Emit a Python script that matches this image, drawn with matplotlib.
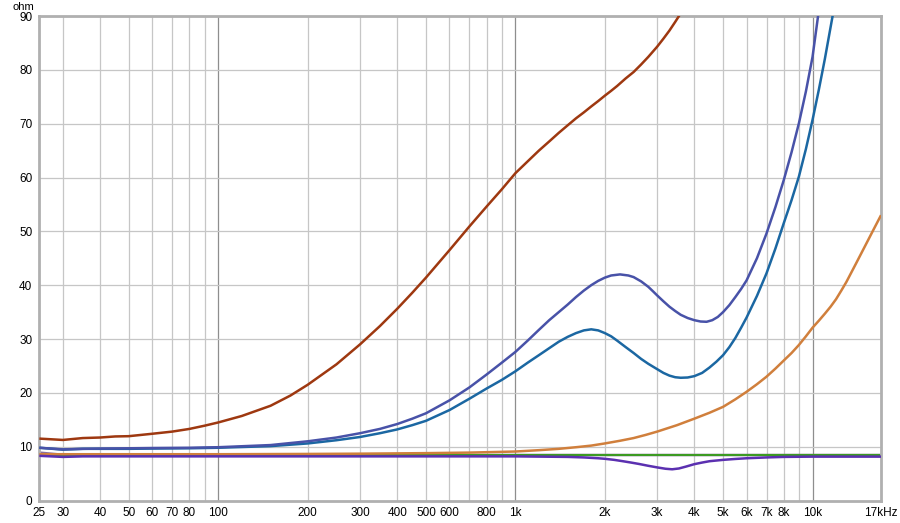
import matplotlib
matplotlib.use("Agg")
import matplotlib.pyplot as plt
from matplotlib.ticker import FixedLocator, NullFormatter, NullLocator

plt.rcParams['font.family'] = ['Liberation Sans', 'DejaVu Sans']

# ---- data (frequency in Hz, impedance in ohm) ----
brown_f = [25, 30, 35, 40, 45, 50, 60, 70, 80, 90, 100, 120, 150, 175, 200, 250, 300, 350, 400, 450,
           500, 600, 700, 800, 900, 1000, 1100, 1200, 1300, 1400, 1500, 1600, 1700, 1800, 1900, 2000,
           2100, 2200, 2350, 2500, 2650, 2800, 3000, 3150, 3300, 3450, 3600]
brown_z = [11.5, 11.25, 11.6, 11.7, 11.9, 11.95, 12.4, 12.8, 13.3, 13.9, 14.5, 15.7, 17.6, 19.5, 21.5,
           25.3, 29.0, 32.4, 35.6, 38.6, 41.4, 46.5, 50.9, 54.6, 57.8, 60.8, 63.0, 65.0, 66.7, 68.3,
           69.7, 71.0, 72.1, 73.2, 74.2, 75.2, 76.1, 77.0, 78.4, 79.6, 81.0, 82.4, 84.3, 85.8, 87.3,
           88.9, 90.5]

blue1_f = [25, 30, 35, 40, 50, 60, 80, 100, 150, 200, 250, 300, 350, 400, 450, 500, 600, 700, 800,
           900, 1000, 1100, 1200, 1300, 1400, 1500, 1600, 1700, 1800, 1900, 2000, 2100, 2250, 2400,
           2500, 2650, 2800, 2900, 3000, 3150, 3300, 3450, 3600, 3800, 4000, 4200, 4400, 4600, 4800,
           5000, 5250, 5500, 5750, 6000, 6500, 7000, 7500, 8000, 8500, 9000, 9500, 10000, 10450]
blue1_z = [9.8, 9.5, 9.6, 9.65, 9.7, 9.75, 9.8, 9.9, 10.3, 11.0, 11.7, 12.5, 13.3, 14.2, 15.2, 16.2,
           18.6, 21.0, 23.4, 25.6, 27.6, 29.7, 31.7, 33.5, 35.0, 36.4, 37.8, 39.0, 40.0, 40.8, 41.4,
           41.8, 42.0, 41.8, 41.5, 40.7, 39.7, 38.9, 38.1, 37.0, 36.0, 35.2, 34.5, 33.9, 33.5, 33.25,
           33.2, 33.5, 34.1, 35.0, 36.3, 37.8, 39.3, 40.9, 45.0, 49.6, 54.5, 59.5, 64.7, 70.1, 76.0,
           82.4, 90.2]

blue2_f = [25, 30, 35, 40, 50, 60, 80, 100, 150, 200, 250, 300, 350, 400, 450, 500, 600, 700, 800,
           900, 1000, 1100, 1200, 1300, 1400, 1500, 1600, 1700, 1800, 1900, 2000, 2100, 2200, 2350,
           2500, 2650, 2800, 3000, 3150, 3300, 3450, 3600, 3800, 4000, 4250, 4500, 4750, 5000, 5250,
           5500, 5750, 6000, 6500, 7000, 7500, 8000, 8500, 9000, 9500, 10000, 10500, 11000, 11700]
blue2_z = [9.8, 9.45, 9.6, 9.6, 9.6, 9.65, 9.7, 9.8, 10.1, 10.6, 11.2, 11.8, 12.5, 13.2, 14.0, 14.8,
           16.8, 18.9, 20.8, 22.4, 24.0, 25.6, 27.0, 28.3, 29.5, 30.4, 31.1, 31.6, 31.8, 31.6, 31.1,
           30.5, 29.7, 28.5, 27.4, 26.3, 25.4, 24.4, 23.7, 23.2, 22.9, 22.8, 22.85, 23.1, 23.7, 24.7,
           25.8, 27.0, 28.5, 30.2, 32.1, 34.0, 38.0, 42.2, 46.8, 51.5, 55.8, 60.2, 65.3, 70.7, 76.3,
           82.0, 90.2]

orange_f = [25, 100, 200, 300, 500, 700, 1000, 1200, 1400, 1600, 1800, 2000, 2250, 2500, 2750, 3000,
            3500, 4000, 4500, 5000, 5500, 6000, 6500, 7000, 7500, 8000, 8500, 9000, 9500, 10000, 10500,
            11000, 11500, 12000, 12500, 13000, 14000, 15000, 16000, 17000]
orange_z = [8.6, 8.6, 8.65, 8.7, 8.8, 8.9, 9.1, 9.35, 9.6, 9.9, 10.2, 10.6, 11.1, 11.6, 12.2, 12.8,
            14.0, 15.2, 16.3, 17.4, 18.8, 20.2, 21.6, 23.0, 24.5, 26.0, 27.4, 28.9, 30.5, 32.1, 33.4,
            34.7, 36.0, 37.4, 39.0, 40.6, 44.0, 47.2, 50.2, 53.0]

green_f = [25, 17000]
green_z = [8.4, 8.4]

lilac_f = [25, 30, 40, 17000]
lilac_z = [8.9, 8.5, 8.45, 8.45]

purple_f = [25, 30, 35, 40, 100, 1000, 1500, 1700, 1900, 2000, 2150, 2300, 2450, 2600, 2800, 3000,
            3200, 3370, 3550, 3750, 4000, 4250, 4500, 5000, 5500, 6000, 7000, 8000, 10000, 17000]
purple_z = [8.3, 8.1, 8.2, 8.2, 8.2, 8.2, 8.1, 8.0, 7.85, 7.75, 7.55, 7.3, 7.05, 6.8, 6.45, 6.15,
            5.9, 5.8, 5.95, 6.3, 6.75, 7.05, 7.3, 7.55, 7.72, 7.85, 8.0, 8.1, 8.15, 8.15]

x_ticks = [25, 30, 40, 50, 60, 70, 80, 100, 200, 300, 400, 500, 600, 800, 1000,
           2000, 3000, 4000, 5000, 6000, 7000, 8000, 10000, 17000]
x_labels = ['25', '30', '40', '50', '60', '70', '80', '100', '200', '300', '400', '500', '600', '800',
            '1k', '2k', '3k', '4k', '5k', '6k', '7k', '8k', '10k', '17kHz']
y_ticks = [0, 10, 20, 30, 40, 50, 60, 70, 80, 90]

# ---- figure ----
fig = plt.figure(figsize=(9.0, 5.23), dpi=100)
ax = fig.add_axes([0.0437, 0.0430, 0.9352, 0.9264])
ax.set_xscale('log')
ax.set_xlim(25, 17000)
ax.set_ylim(0, 90)

# grid
minor_grid = [m * d for d in (10, 100, 1000, 10000) for m in range(2, 10) if 25 < m * d < 17000]
for f in minor_grid:
    ax.axvline(f, color='#c6c6c6', lw=0.9, zorder=0)
for f in (100, 1000, 10000):
    ax.axvline(f, color='#8e8e8e', lw=0.9, zorder=0)
for y in y_ticks[1:]:
    ax.axhline(y, color='#c6c6c6', lw=0.9, zorder=0)

lw = 1.8
kw = dict(solid_capstyle='butt', solid_joinstyle='round')
ax.plot(lilac_f, lilac_z, color='#8a6f9f', lw=lw, zorder=2, **kw)
ax.plot(green_f, green_z, color='#3c9a22', lw=1.5, zorder=2, **kw)
ax.plot(orange_f, orange_z, color='#d07f3c', lw=lw, zorder=3, **kw)
ax.plot(purple_f, purple_z, color='#5b30b0', lw=lw, zorder=4, **kw)
ax.plot(blue2_f, blue2_z, color='#1b67a2', lw=lw, zorder=5, **kw)
ax.plot(blue1_f, blue1_z, color='#4852a8', lw=lw, zorder=6, **kw)
ax.plot(brown_f, brown_z, color='#9e3810', lw=lw, zorder=7, **kw)

ax.xaxis.set_major_locator(FixedLocator(x_ticks))
ax.set_xticklabels(x_labels)
ax.xaxis.set_minor_locator(NullLocator())
ax.xaxis.set_minor_formatter(NullFormatter())
ax.set_yticks(y_ticks)
ax.tick_params(axis='both', length=0, labelsize=8.5, colors='#000000')
ax.tick_params(axis='x', pad=5)
ax.tick_params(axis='y', pad=5)

for s in ax.spines.values():
    s.set_color('#b0b0b0')
    s.set_linewidth(2.0)

fig.text(0.0265, 0.987, 'ohm', ha='center', va='center', fontsize=8)

fig.savefig('out.png', dpi=100)
